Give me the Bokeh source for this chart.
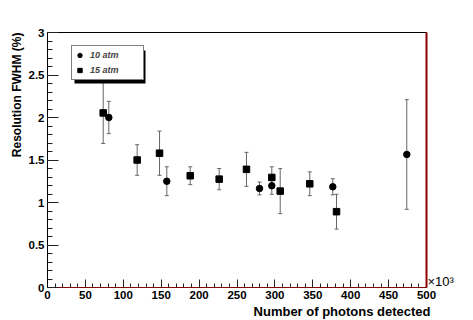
from bokeh.plotting import figure
from bokeh.models import (ColumnDataSource, Whisker, TeeHead, Legend, LegendItem,
                          Title, LinearAxis, BoxAnnotation, FixedTicker, Range1d)
from bokeh.embed import file_html
from bokeh.resources import INLINE

# ---- data (x in units of 10^3 photons, y = resolution FWHM in %) ----
x10 = [80.9, 157.4, 279.7, 295.9, 376.4, 474.0]
y10 = [2.00, 1.25, 1.165, 1.197, 1.185, 1.565]
e10 = [0.19, 0.17, 0.075, 0.10, 0.095, 0.645]

x15 = [73.5, 118.3, 147.8, 188.3, 226.5, 262.5, 295.9, 307.0, 346.0, 381.3]
y15 = [2.054, 1.50, 1.58, 1.315, 1.275, 1.39, 1.295, 1.134, 1.22, 0.892]
e15 = [0.36, 0.18, 0.26, 0.105, 0.125, 0.20, 0.125, 0.265, 0.14, 0.205]

series_labels = ["10 atm", "15 atm"]
x_ticks = [0, 50, 100, 150, 200, 250, 300, 350, 400, 450, 500]
x_tick_labels = ["0", "50", "100", "150", "200", "250", "300", "350", "400", "450", "500"]
y_ticks = [0, 0.5, 1, 1.5, 2, 2.5, 3]
y_tick_labels = ["0", "0.5", "1", "1.5", "2", "2.5", "3"]
x_title = "Number of photons detected"
y_title = "Resolution FWHM (%)"
x_exponent = "\u00d710\u00b3"

FONT = "Liberation Sans"
ERR = "#666666"
DARKRED = "#8b0000"

src10 = ColumnDataSource(dict(x=x10, y=y10,
                              lo=[v - e for v, e in zip(y10, e10)],
                              hi=[v + e for v, e in zip(y10, e10)]))
src15 = ColumnDataSource(dict(x=x15, y=y15,
                              lo=[v - e for v, e in zip(y15, e15)],
                              hi=[v + e for v, e in zip(y15, e15)]))

p = figure(width=473, height=320, x_range=Range1d(0, 500), y_range=Range1d(0, 3),
           output_backend="svg", toolbar_location=None,
           min_border_left=47, min_border_right=47, min_border_top=32, min_border_bottom=33)
p.grid.visible = False
p.outline_line_color = "black"
p.outline_line_width = 1
p.background_fill_color = "white"
p.border_fill_color = "white"

# axes
xa = p.xaxis[0]
ya = p.yaxis[0]
xa.ticker = FixedTicker(ticks=x_ticks, minor_ticks=list(range(0, 501, 10)))
ya.ticker = FixedTicker(ticks=y_ticks, minor_ticks=[i / 10 for i in range(31)])
xa.major_label_overrides = {t: s for t, s in zip(x_ticks, x_tick_labels)}
ya.major_label_overrides = {t: s for t, s in zip(y_ticks, y_tick_labels)}
for ax in (xa, ya):
    ax.major_tick_out = 0
    ax.minor_tick_out = 0
    ax.major_tick_line_color = "#222222"
    ax.minor_tick_line_color = "#222222"
    ax.major_label_text_font = FONT
    ax.major_label_text_font_style = "bold"
    ax.major_label_text_font_size = "11.5px"
    ax.major_label_text_color = "black"
xa.major_tick_in = 8
xa.minor_tick_in = 4
ya.major_tick_in = 11
ya.minor_tick_in = 5
xa.major_label_standoff = 3
ya.major_label_standoff = 3
xa.axis_line_color = DARKRED
ya.axis_line_color = "black"

# right frame edge (dark red) carrying the x10^3 multiplier text near the bottom
ra = LinearAxis(ticker=FixedTicker(ticks=[0.065]),
                major_label_overrides={0.065: x_exponent},
                axis_line_color=DARKRED, axis_line_width=2,
                major_tick_line_color=None, minor_tick_line_color=None,
                major_tick_out=0, major_tick_in=0,
                major_label_standoff=1,
                major_label_text_font=FONT, major_label_text_font_size="13px",
                major_label_text_color="black")
p.add_layout(ra, "right")

# error bars
for src in (src10, src15):
    w = Whisker(base="x", upper="hi", lower="lo", source=src, dimension="height",
                line_color=ERR, line_width=1,
                upper_head=TeeHead(size=4, line_color=ERR, line_width=1),
                lower_head=TeeHead(size=4, line_color=ERR, line_width=1))
    p.add_layout(w)

r10 = p.scatter("x", "y", source=src10, marker="circle", size=6.5,
                fill_color="black", line_color="black")
r15 = p.scatter("x", "y", source=src15, marker="square", size=6.5,
                fill_color="black", line_color="black")

# legend shadow + legend
shadow = BoxAnnotation(left=27, right=98, bottom=204, top=237,
                       left_units="screen", right_units="screen",
                       bottom_units="screen", top_units="screen",
                       fill_color="black", fill_alpha=1, line_color=None)
p.add_layout(shadow)

legend = Legend(items=[LegendItem(label=series_labels[0], renderers=[r10]),
                       LegendItem(label=series_labels[1], renderers=[r15])],
                location=(24, 207), orientation="vertical",
                padding=2, spacing=1, margin=0,
                glyph_width=11, glyph_height=14, label_standoff=5,
                label_width=51, label_height=14,
                label_text_font=FONT, label_text_font_style="bold italic",
                label_text_font_size="9px",
                border_line_color="black", border_line_width=1,
                background_fill_color="white", background_fill_alpha=1)
p.add_layout(legend)

# axis titles (right-aligned at the axis ends, ROOT style)
yt = Title(text=y_title, align="right", text_font=FONT, text_font_style="bold",
           text_font_size="12px", text_color="black", standoff=3, offset=0)
p.add_layout(yt, "left")

xt = Title(text=x_title, align="right", text_font=FONT, text_font_style="bold",
           text_font_size="13px", text_color="black", standoff=0, offset=-4)
p.add_layout(xt, "below")

open("out.html", "w").write(file_html(p, INLINE))
